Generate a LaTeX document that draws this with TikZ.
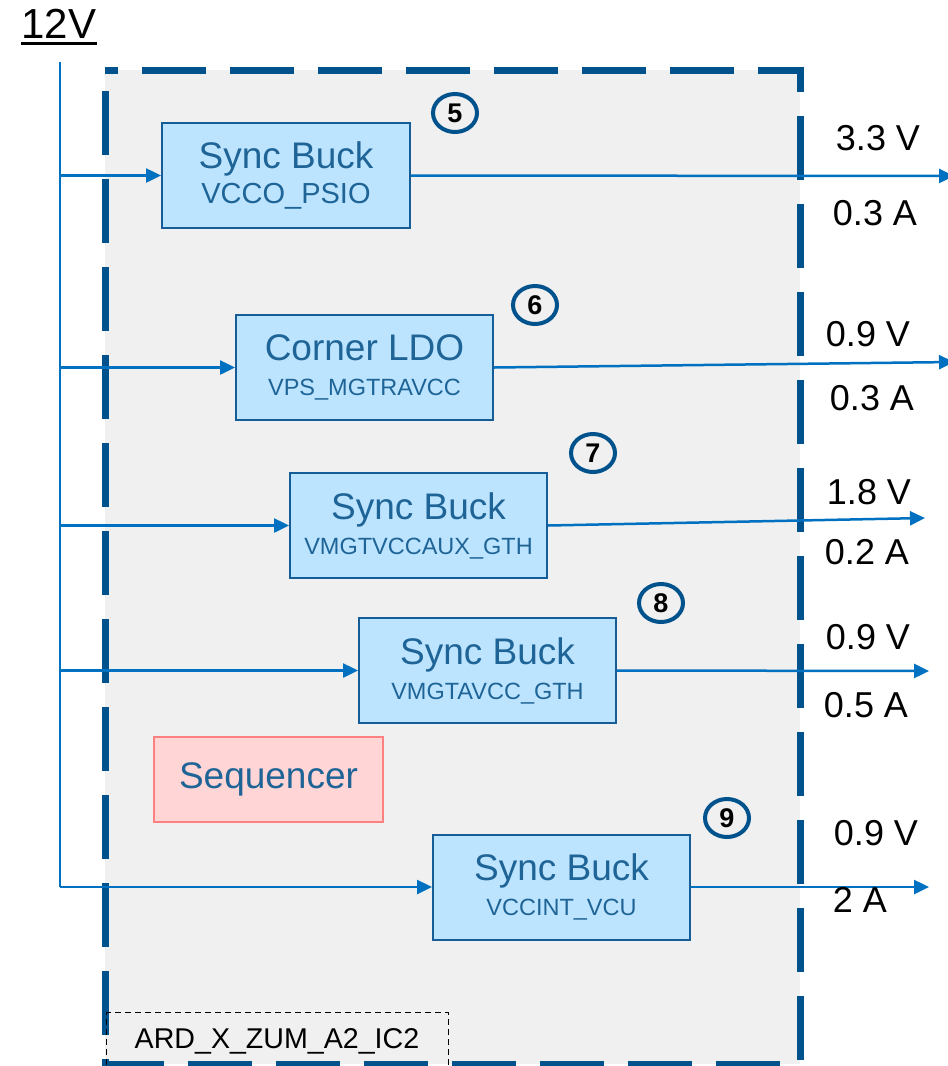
\documentclass[tikz,border=0pt]{standalone}
\usepackage{fontspec}
\setmainfont{Liberation Sans}
\usetikzlibrary{arrows.meta, shapes.geometric}
\definecolor{feed}{RGB}{0,112,192}
\definecolor{regedge}{RGB}{22,92,150}
\definecolor{regfill}{RGB}{189,228,255}
\definecolor{regtext}{RGB}{30,100,150}
\definecolor{outeredge}{RGB}{0,82,140}
\definecolor{panel}{RGB}{240,240,240}
\definecolor{seqfill}{RGB}{255,213,213}
\definecolor{seqedge}{RGB}{255,128,128}
\newcommand{\railname}[1]{{\fontsize{23.5}{35}\selectfont #1}}

\begin{document}
\begin{tikzpicture}[x=1pt, y=-1pt,
    reg/.style={draw=regedge, fill=regfill, line width=2pt, minimum width=257pt,
        minimum height=105pt, inner sep=0pt, align=center, text=regtext,
        font=\fontsize{37}{35}\selectfont},
    rail/.style={draw=feed, line width=2.5pt},
    tap/.style={rail, -{Triangle[length=15pt, width=14pt]}},
    numtag/.style={draw=outeredge, line width=4pt, ellipse, minimum width=44pt,
        minimum height=38pt, inner sep=0pt, font=\fontsize{27}{27}\selectfont\bfseries},
    ratelabel/.style={font=\fontsize{36}{36}\selectfont}]
    \useasboundingbox (0,0) rectangle (948,1066);
    % Board outline
    \fill[panel] (105,70) rectangle (800,1064);
    \draw[outeredge, line width=7pt, dash pattern=on 64pt off 24pt, dash phase=51pt]
        (105,70) -- (800,70) -- (800,1064) -- (105,1064) -- cycle;
    % Board name
    \node[draw, line width=1.2pt, dash pattern=on 6pt off 4pt, minimum width=342pt,
        minimum height=60pt, inner sep=0pt, anchor=north west] (board) at (106,1012) {};
    \node[font=\fontsize{28.6}{30}\selectfont] (boardname) at (277,1041) {ARD\_X\_ZUM\_A2\_IC2};
    % Input rail
    \node[font=\fontsize{42}{42}\selectfont, inner sep=0pt, anchor=base] (v12) at (59,38) {12V};
    \draw[line width=3pt] ([yshift=-5pt]v12.base west) -- ([yshift=-5pt]v12.base east);
    \coordinate (bustop) at (60,62);
    \coordinate (busbot) at (60,887);
    \draw[rail] (bustop) -- (busbot);
    % Regulators
    \node[reg, minimum width=248pt] (reg5) at (286,175.5)
        {Sync Buck\\{\fontsize{29}{35}\selectfont VCCO\_PSIO}};
    \node[reg] (reg6) at (364.5,367.5) {Corner LDO\\\railname{VPS\_MGTRAVCC}};
    \node[reg] (reg7) at (418.5,525.5) {Sync Buck\\\railname{VMGTVCCAUX\_GTH}};
    \node[reg] (reg8) at (487.5,670.5) {Sync Buck\\\railname{VMGTAVCC\_GTH}};
    \node[reg] (reg9) at (561.5,887) {Sync Buck\\\railname{VCCINT\_VCU}};
    \node[draw=seqedge, fill=seqfill, line width=2pt, minimum width=229pt,
        minimum height=85pt, text=regtext, font=\fontsize{37}{33}\selectfont] (seq)
        at (268.5,779.5) {Sequencer};
    % Step numbers
    \node[numtag] (n5) at (455,113) {5};
    \node[numtag] (n6) at (535,305) {6};
    \node[numtag] (n7) at (593,453) {7};
    \node[numtag] (n8) at (661,603) {8};
    \node[numtag] (n9) at (727,818) {9};
    % Feeds from the 12V rail
    \foreach \r in {reg5,reg6,reg7,reg8,reg9}
        \draw[tap] (busbot |- \r.west) -- (\r.west);
    % Outputs
    \coordinate (out5) at (954,176);
    \coordinate (out6) at (954,362);
    \coordinate (out7) at (925,518);
    \coordinate (out8) at (929,671);
    \coordinate (out9) at (929,887);
    \foreach \r/\o in {reg5/out5,reg6/out6,reg7/out7,reg8/out8,reg9/out9}
        \draw[tap] (\r.east) -- (\o);
    % Voltage and current
    \node[ratelabel] (v5) at (878,138) {3.3 V};
    \node[ratelabel] (i5) at (875,213) {0.3 A};
    \node[ratelabel] (v6) at (868,334) {0.9 V};
    \node[ratelabel] (i6) at (872,398) {0.3 A};
    \node[ratelabel] (v7) at (869,492) {1.8 V};
    \node[ratelabel] (i7) at (867,552) {0.2 A};
    \node[ratelabel] (v8) at (868,637) {0.9 V};
    \node[ratelabel] (i8) at (866,705) {0.5 A};
    \node[ratelabel] (v9) at (876,833) {0.9 V};
    \node[ratelabel] (i9) at (860,900) {2 A};
\end{tikzpicture}
\end{document}
